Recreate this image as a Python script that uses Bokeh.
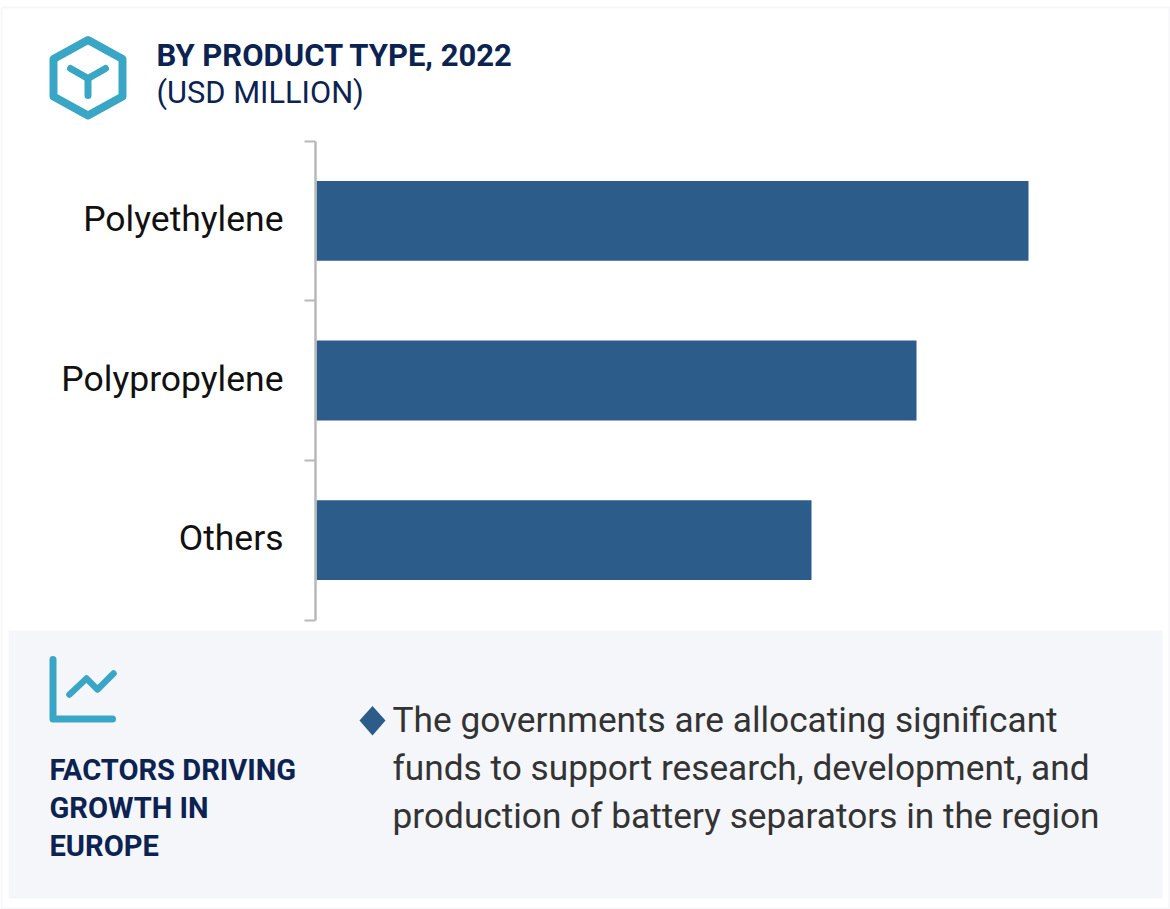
from bokeh.plotting import figure
from bokeh.embed import file_html
from bokeh.resources import INLINE
from bokeh.models import (Range1d, LinearAxis, FixedTicker, BoxAnnotation, Label, PolyAnnotation)

categories = ["Polyethylene", "Polypropylene", "Others"]
values = [712, 600, 495]
band_edges = [0, 1, 2, 3]
band_centers = [0.5, 1.5, 2.5]
title_lines = ["BY PRODUCT TYPE, 2022", "(USD MILLION)"]
factor_lines = ["FACTORS DRIVING", "GROWTH IN", "EUROPE"]
body_lines = ["The governments are allocating significant",
              "funds to support research, development, and",
              "production of battery separators in the region"]

NAVY, TEAL, BLUE, GREY, INK = "#0C2352", "#3AA6C6", "#2C5C8A", "#B8B8B8", "#333333"
W, H = 1170, 909
L, T, B = 315, 140.5, 619.5
band = (B - T) / 3
label_nudge = 1.8 / band
label_ticks = [c - label_nudge for c in band_centers]

p = figure(width=W, height=H, output_backend="svg", toolbar_location=None,
           x_range=Range1d(-L, W - L), y_range=Range1d((H - T) / band, -T / band),
           x_axis_location=None, y_axis_location=None,
           min_border_left=0, min_border_right=0, min_border_top=0, min_border_bottom=0,
           background_fill_color="white", border_fill_color="white")
p.styles = {"position": "absolute", "left": "0px", "top": "0px"}
p.outline_line_color = None
p.grid.visible = False

axis = LinearAxis(ticker=FixedTicker(ticks=label_ticks, minor_ticks=band_edges),
                  major_label_overrides={c: n for c, n in zip(label_ticks, categories)},
                  fixed_location=0, bounds=(0, 3))
axis.axis_line_color = GREY
axis.axis_line_width = 2.5
axis.major_tick_line_color = None
axis.major_tick_in = 0
axis.major_tick_out = 0
axis.minor_tick_line_color = GREY
axis.minor_tick_line_width = 2
axis.minor_tick_in = 0
axis.minor_tick_out = 11
axis.major_label_standoff = 21
axis.major_label_text_font = "Roboto"
axis.major_label_text_font_size = "35.5px"
axis.major_label_text_color = "#111111"
p.add_layout(axis, "left")

def S(**k):
    return dict(left_units="canvas", right_units="canvas", top_units="canvas", bottom_units="canvas", **k)

p.add_layout(BoxAnnotation(left=1, right=1169, top=7, bottom=908, fill_color="white", fill_alpha=0,
                           line_color="#E0E1E9", line_width=2, level="underlay", **S()))
p.add_layout(BoxAnnotation(left=8, right=1162, top=630, bottom=898, fill_color="#F4F6FA", fill_alpha=1,
                           line_color=None, level="underlay", **S()))

p.hbar(y=band_centers, left=1, right=[v + 1 for v in values], height=0.5, fill_color=BLUE, line_color=None)

def poly(xs, ys, **k):
    p.add_layout(PolyAnnotation(xs=xs, ys=ys, xs_units="canvas", ys_units="canvas", **k))

def stroke(pts, color, width, closed=False):
    xs = [a for a, _ in pts]
    ys = [b for _, b in pts]
    if not closed:
        xs = xs + xs[-2:0:-1]
        ys = ys + ys[-2:0:-1]
    poly(xs, ys, fill_alpha=0, line_color=color, line_width=width, line_alpha=1,
         line_join="round", line_cap="round")

stroke([(87.5, 39.5), (122, 58.5), (122, 96), (87.5, 115), (53, 96), (53, 58.5)], TEAL, 8, closed=True)
stroke([(70, 68), (87.5, 78), (105, 68)], TEAL, 7)
stroke([(87.5, 78), (87.5, 95)], TEAL, 7)
stroke([(52.5, 659), (52.5, 718.5), (112, 718.5)], TEAL, 7)
stroke([(69, 694), (86, 678), (97, 689), (113, 673)], TEAL, 6.5)
poly([372, 385, 372, 359], [705.5, 720, 735, 720], fill_color=BLUE, fill_alpha=1, line_color=None)

def text(x, y, s, size, color, style="normal"):
    p.add_layout(Label(x=x, y=y, x_units="canvas", y_units="canvas", text=s, text_font="Roboto",
                       text_font_size=size, text_color=color, text_font_style=style,
                       text_baseline="alphabetic", text_align="left"))

text(156, 55, title_lines[0], "31px", NAVY, "bold")
text(156, 92, title_lines[1], "30.8px", NAVY)
for i, s in enumerate(factor_lines):
    text(49, 769 + i * 38.25, s, "29.1px", NAVY, "bold")
for i, s in enumerate(body_lines):
    text(392, 719.5 + i * 48, s, "35.25px", INK)

open("out.html", "w").write(file_html(p, INLINE))
